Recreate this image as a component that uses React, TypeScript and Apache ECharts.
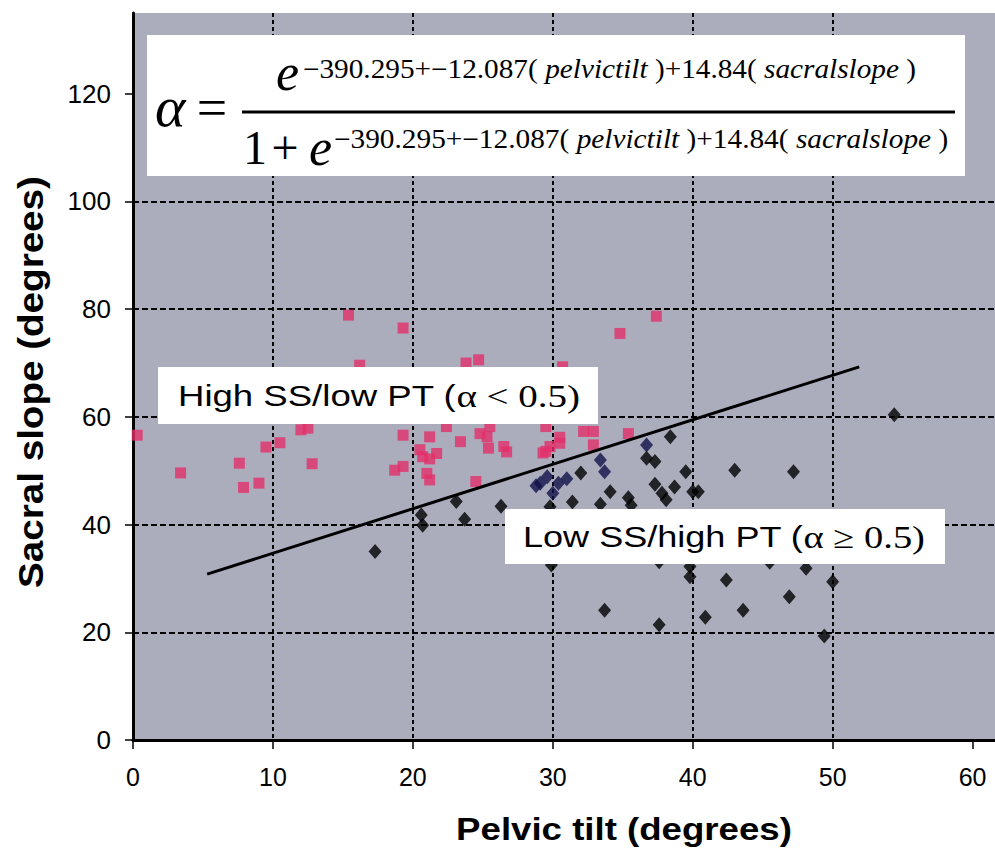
import React, { useEffect, useRef } from "react";
import * as echarts from "echarts";

// Pelvic tilt (x) vs sacral slope (y)
const highSSPoints: number[][] = [
  [0.3, 56.6], [3.4, 49.6], [7.6, 51.4], [7.9, 46.9], [9.0, 47.7], [9.5, 54.4], [10.5, 55.2],
  [12.0, 57.6], [12.5, 57.9], [12.8, 51.3], [15.4, 78.9], [19.3, 76.5], [16.2, 69.6],
  [23.8, 70.0], [24.7, 70.6], [34.8, 75.5], [37.4, 78.7], [30.7, 69.3], [22.4, 58.2],
  [19.3, 56.6], [21.2, 56.3], [23.4, 55.4], [24.8, 56.9], [25.5, 58.2], [25.4, 54.2],
  [21.7, 53.2], [20.7, 52.6], [18.7, 50.1], [19.3, 50.8], [21.0, 49.5], [21.2, 48.3],
  [24.5, 48.0], [20.5, 53.9], [21.2, 52.2], [26.7, 53.5], [29.3, 53.3], [26.5, 54.5],
  [25.3, 56.3], [29.5, 58.2], [32.2, 57.3], [32.9, 57.3], [35.4, 56.9], [30.5, 55.1],
  [29.5, 53.6], [32.9, 54.8], [29.8, 54.5], [30.5, 56.2]
];
const navyPoints: number[][] = [
  [29.1, 47.7], [29.6, 48.9], [30.4, 47.7], [30.0, 45.8], [28.8, 47.2], [33.4, 52.0],
  [33.7, 49.8], [36.7, 54.8], [31.0, 48.5]
];
const lowSSPoints: number[][] = [
  [17.3, 35.0], [20.6, 41.8], [20.7, 39.9], [23.1, 44.3], [23.7, 41.0], [26.3, 43.4],
  [29.8, 43.3], [31.4, 44.2], [32.0, 49.6], [33.4, 43.8], [34.1, 46.1], [35.4, 45.0],
  [35.6, 43.6], [36.7, 52.3], [37.3, 51.7], [37.3, 47.5], [37.8, 45.8], [38.1, 44.6],
  [38.7, 47.0], [38.4, 56.3], [39.5, 49.8], [40.0, 46.1], [40.4, 46.1], [43.0, 50.1],
  [47.2, 49.8], [54.4, 60.4], [29.9, 32.5], [33.7, 24.1], [37.6, 21.4], [37.6, 33.1],
  [39.8, 32.2], [39.8, 30.3], [40.9, 22.8], [42.4, 29.7], [43.6, 24.1], [45.5, 33.0],
  [46.9, 26.6], [48.1, 31.9], [49.4, 19.3], [50.0, 29.4]
];
const boundaryLine: number[][] = [[5.3, 30.8], [51.9, 69.3]];
const xTickValues = [0, 10, 20, 30, 40, 50, 60];
const yTickValues = [0, 20, 40, 60, 80, 100, 120];

const SANS = "'Liberation Sans', Arial, sans-serif";
const SERIF = "'Liberation Serif', 'Times New Roman', serif";

function measure(segments: { t: string; font: string }[]): number {
  const c = document.createElement("canvas");
  const ctx = c.getContext("2d");
  if (!ctx) return 1;
  let w = 0;
  for (const s of segments) {
    ctx.font = s.font;
    w += ctx.measureText(s.t).width;
  }
  return w || 1;
}

export default function App() {
  const ref = useRef<HTMLDivElement>(null);
  useEffect(() => {
    if (!ref.current) return;
    const chart = echarts.init(ref.current, null, { renderer: "svg" });

    const expFs = 27;
    const expN1 = "−390.295+−12.087( ";
    const expI1 = "pelvictilt";
    const expN2 = " )+14.84( ";
    const expI2 = "sacralslope";
    const expN3 = " )";
    const expW = measure([
      { t: expN1, font: `${expFs}px ${SERIF}` },
      { t: expI1, font: `italic ${expFs}px ${SERIF}` },
      { t: expN2, font: `${expFs}px ${SERIF}` },
      { t: expI2, font: `italic ${expFs}px ${SERIF}` },
      { t: expN3, font: `${expFs}px ${SERIF}` }
    ]);
    const expRich = {
      n: { fontFamily: SERIF, fontSize: expFs, fill: "#000" },
      i: { fontFamily: SERIF, fontSize: expFs, fontStyle: "italic", fill: "#000" }
    };
    const expText = `{n|${expN1}}{i|${expI1}}{n|${expN2}}{i|${expI2}}{n|${expN3}}`;

    const labFs = 30;
    const labSerifFs = 32;
    const hiA = "High SS/low PT (";
    const hiB = "α < 0.5)";
    const loA = "Low SS/high PT (";
    const loB = "α ≥ 0.5)";
    const hiW = measure([
      { t: hiA, font: `${labFs}px ${SANS}` },
      { t: hiB, font: `${labSerifFs}px ${SERIF}` }
    ]);
    const loW = measure([
      { t: loA, font: `${labFs}px ${SANS}` },
      { t: loB, font: `${labSerifFs}px ${SERIF}` }
    ]);
    const labRich = {
      a: { fontFamily: SANS, fontSize: labFs, fill: "#000" },
      b: { fontFamily: SERIF, fontSize: labSerifFs, fill: "#000" }
    };

    const xTitle = "Pelvic tilt (degrees)";
    const yTitle = "Sacral slope (degrees)";
    const xTitleW = measure([{ t: xTitle, font: `bold 32px ${SANS}` }]);
    const yTitleW = measure([{ t: yTitle, font: `bold 35px ${SANS}` }]);

    const option: any = {
      animation: false,
      backgroundColor: "#ffffff",
      grid: {
        left: 133,
        right: 0,
        top: 13,
        bottom: 110,
        show: true,
        backgroundColor: "#abadbd",
        borderWidth: 0
      },
      xAxis: {
        type: "value",
        min: 0,
        max: 61.6,
        interval: 10,
        axisLine: { show: true, lineStyle: { color: "#000", width: 3 } },
        axisTick: {
          show: true,
          length: 9,
          customValues: xTickValues,
          lineStyle: { color: "#000", width: 1.5 }
        },
        axisLabel: {
          customValues: xTickValues,
          color: "#000",
          fontFamily: SANS,
          fontSize: 25,
          margin: 24
        },
        splitLine: {
          show: true,
          showMinLine: false,
          showMaxLine: false,
          lineStyle: { color: "#000", width: 2, type: [4, 3] }
        }
      },
      yAxis: {
        type: "value",
        min: 0,
        max: 135,
        interval: 20,
        axisLine: { show: true, lineStyle: { color: "#000", width: 3 } },
        axisTick: {
          show: true,
          length: 8,
          customValues: yTickValues,
          lineStyle: { color: "#000", width: 1.5 }
        },
        axisLabel: {
          customValues: yTickValues,
          color: "#000",
          fontFamily: SANS,
          fontSize: 26,
          margin: 22
        },
        splitLine: {
          show: true,
          showMinLine: false,
          showMaxLine: false,
          lineStyle: { color: "#000", width: 2, type: [6, 3] }
        }
      },
      series: [
        {
          name: "High SS/low PT",
          type: "scatter",
          data: highSSPoints,
          symbol: "rect",
          symbolSize: 11,
          itemStyle: { color: "#e3306a" },
          z: 2
        },
        {
          name: "navy",
          type: "scatter",
          data: navyPoints,
          symbol: "diamond",
          symbolSize: [13, 15],
          itemStyle: { color: "#12124a" },
          z: 3
        },
        {
          name: "Low SS/high PT",
          type: "scatter",
          data: lowSSPoints,
          symbol: "diamond",
          symbolSize: [13, 15],
          itemStyle: { color: "#000" },
          z: 3
        },
        {
          name: "boundary",
          type: "line",
          data: boundaryLine,
          symbol: "none",
          lineStyle: { color: "#000", width: 3 },
          z: 4
        }
      ],
      graphic: [
        // formula box
        { type: "rect", z: 100, shape: { x: 147, y: 35, width: 818, height: 141 }, style: { fill: "#fff" } },
        { type: "text", z: 101, x: 155, y: 106, style: { text: "α", font: `italic 58px ${SERIF}`, fill: "#000", textAlign: "left", textVerticalAlign: "middle" } },
        { type: "text", z: 101, x: 212, y: 108, style: { text: "=", font: `54px ${SERIF}`, fill: "#000", textAlign: "center", textVerticalAlign: "middle" } },
        { type: "line", z: 101, shape: { x1: 242, y1: 112, x2: 955, y2: 112 }, style: { stroke: "#000", lineWidth: 3 } },
        { type: "text", z: 101, x: 276, y: 72, style: { text: "e", font: `italic 52px ${SERIF}`, fill: "#000", textAlign: "left", textVerticalAlign: "middle" } },
        { type: "text", z: 101, x: 303, y: 69, scaleX: 613 / expW, style: { text: expText, rich: expRich, textAlign: "left", textVerticalAlign: "middle" } },
        { type: "text", z: 101, x: 243, y: 147, style: { text: "1", font: `48px ${SERIF}`, fill: "#000", textAlign: "left", textVerticalAlign: "middle" } },
        { type: "text", z: 101, x: 285, y: 147, style: { text: "+", font: `48px ${SERIF}`, fill: "#000", textAlign: "center", textVerticalAlign: "middle" } },
        { type: "text", z: 101, x: 309, y: 147, style: { text: "e", font: `italic 52px ${SERIF}`, fill: "#000", textAlign: "left", textVerticalAlign: "middle" } },
        { type: "text", z: 101, x: 334, y: 139, scaleX: 614 / expW, style: { text: expText, rich: expRich, textAlign: "left", textVerticalAlign: "middle" } },
        // region labels
        { type: "rect", z: 100, shape: { x: 158, y: 367, width: 440, height: 57 }, style: { fill: "#fff" } },
        { type: "text", z: 101, x: 178, y: 396, scaleX: 402 / hiW, style: { text: `{a|${hiA}}{b|${hiB}}`, rich: labRich, textAlign: "left", textVerticalAlign: "middle" } },
        { type: "rect", z: 100, shape: { x: 505, y: 509, width: 440, height: 55 }, style: { fill: "#fff" } },
        { type: "text", z: 101, x: 523, y: 537, scaleX: 402 / loW, style: { text: `{a|${loA}}{b|${loB}}`, rich: labRich, textAlign: "left", textVerticalAlign: "middle" } },
        // axis titles
        { type: "text", z: 101, x: 624, y: 829, scaleX: 336 / xTitleW, style: { text: xTitle, font: `bold 32px ${SANS}`, fill: "#000", textAlign: "center", textVerticalAlign: "middle" } },
        { type: "text", z: 101, x: 31, y: 382, rotation: Math.PI / 2, scaleX: 412 / yTitleW, style: { text: yTitle, font: `bold 35px ${SANS}`, fill: "#000", textAlign: "center", textVerticalAlign: "middle" } }
      ]
    };
    chart.setOption(option);
    return () => chart.dispose();
  }, []);
  return (
    <div
      ref={ref}
      style={{ position: "absolute", left: 0, top: 0, width: 995, height: 850, background: "#fff" }}
    />
  );
}
